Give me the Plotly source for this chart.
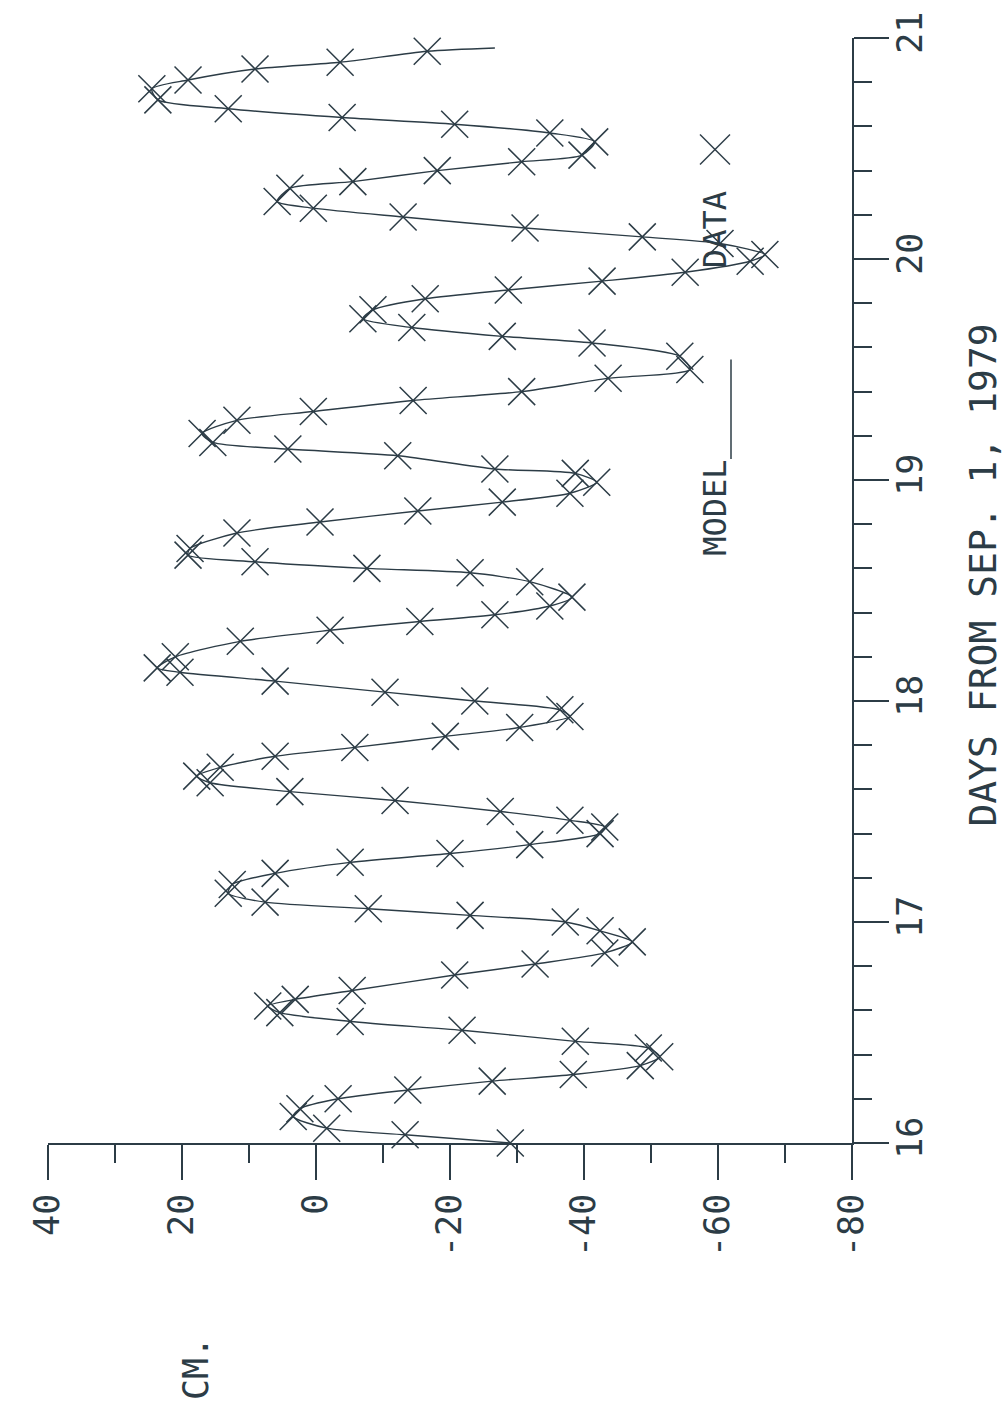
import plotly.graph_objects as go

INK = "#2c3c46"

# ---- data (days from Sep 1 1979, sea level in cm) ----
data_day = [16.00, 16.037, 16.067, 16.12, 16.155, 16.20, 16.24, 16.28, 16.31, 16.35,
            16.39, 16.43, 16.46, 16.51, 16.55, 16.59, 16.62, 16.65, 16.69, 16.76,
            16.81, 16.86, 16.91, 16.96, 17.00, 17.03, 17.06, 17.09, 17.13, 17.17,
            17.22, 17.27, 17.31, 17.35, 17.40, 17.43, 17.46, 17.50, 17.55, 17.59,
            17.63, 17.66, 17.70, 17.75, 17.79, 17.84, 17.88, 17.93, 17.96, 18.00,
            18.04, 18.09, 18.13, 18.15, 18.20, 18.27, 18.32, 18.36, 18.39, 18.43,
            18.47, 18.54, 18.58, 18.60, 18.63, 18.66, 18.69, 18.76, 18.81, 18.86,
            18.90, 18.94, 18.99, 19.03, 19.05, 19.11, 19.14, 19.17, 19.21, 19.27,
            19.31, 19.36, 19.40, 19.46, 19.50, 19.56, 19.62, 19.65, 19.69, 19.73,
            19.77, 19.82, 19.86, 19.90, 19.94, 19.99, 20.02, 20.07, 20.10, 20.14,
            20.19, 20.23, 20.26, 20.32, 20.35, 20.40, 20.44, 20.47, 20.53, 20.57,
            20.61, 20.64, 20.68, 20.72, 20.77, 20.81, 20.86, 20.89, 20.94]
data_cm = [-29.0, -13.3, -1.6, 3.4, 2.4, -3.3, -13.7, -26.3, -38.4, -48.4,
           -51.3, -49.6, -38.7, -21.8, -5.1, 5.4, 7.2, 3.1, -5.4, -20.7,
           -32.7, -43.1, -47.2, -42.4, -37.2, -23.0, -7.8, 7.6, 13.1, 12.5,
           6.1, -5.1, -20.0, -31.9, -42.4, -43.1, -37.9, -27.5, -11.8, 3.9,
           15.8, 17.8, 14.3, 6.1, -5.8, -19.3, -30.4, -37.9, -36.4, -23.7,
           -10.3, 6.1, 20.3, 23.7, 21.0, 11.3, -2.1, -15.5, -26.7, -34.9,
           -38.2, -31.9, -23.0, -7.6, 9.1, 19.1, 18.8, 11.8, -0.6, -15.2,
           -27.8, -37.9, -41.9, -38.7, -26.7, -12.2, 4.2, 15.4, 17.0, 11.8,
           0.4, -14.5, -30.7, -43.6, -55.8, -54.3, -41.2, -27.8, -14.3, -7.0,
           -8.5, -16.3, -28.7, -42.7, -55.1, -64.8, -67.0, -60.3, -48.7, -31.2,
           -13.0, 0.4, 5.8, 3.9, -5.5, -18.1, -30.7, -39.7, -41.6, -34.9,
           -20.7, -3.9, 13.1, 23.6, 24.5, 19.1, 9.1, -3.6, -16.6]

# model curve (continues slightly past the last observation)
model_day = data_day + [20.955]
model_cm = data_cm + [-26.7]

cm_ticks = [40, 20, 0, -20, -40, -60, -80]
day_ticks = [16, 17, 18, 19, 20, 21]

FONT = "DejaVu Sans Mono"

fig = go.Figure()
fig.add_trace(go.Scatter(x=model_cm, y=model_day, mode="lines", name="MODEL",
                         line=dict(color=INK, width=1.4, shape="spline", smoothing=0.7),
                         cliponaxis=False, hoverinfo="skip"))
fig.add_trace(go.Scatter(x=data_cm, y=data_day, mode="markers", name="DATA",
                         marker=dict(symbol="x-thin", size=27,
                                     line=dict(color=INK, width=1.5)),
                         cliponaxis=False))

fig.update_layout(
    width=1004, height=1409,
    margin=dict(l=48, r=152, t=33, b=266),
    paper_bgcolor="white", plot_bgcolor="white",
    showlegend=False,
    font=dict(family=FONT, color=INK),
    xaxis=dict(range=[40, -80], tickmode="array", tickvals=cm_ticks,
               ticktext=[str(v) for v in cm_ticks],
               ticks="outside", ticklen=35, tickwidth=1.5, tickcolor=INK,
               showline=True, linecolor=INK, linewidth=1.5,
               showgrid=False, zeroline=False, tickangle=-90,
               tickfont=dict(family=FONT, size=35, color=INK),
               minor=dict(dtick=10, tick0=0, ticks="outside", ticklen=18,
                          tickwidth=1.5, tickcolor=INK, showgrid=False)),
    yaxis=dict(range=[16, 21], side="right", tickmode="array", tickvals=day_ticks,
               ticktext=[str(v) for v in day_ticks],
               ticks="outside", ticklen=35, tickwidth=1.5, tickcolor=INK,
               showline=True, linecolor=INK, linewidth=1.5,
               showgrid=False, zeroline=False, tickangle=-90,
               ticklabelstandoff=-9,
               tickfont=dict(family=FONT, size=35, color=INK),
               minor=dict(dtick=0.2, tick0=16, ticks="outside", ticklen=18,
                          tickwidth=1.5, tickcolor=INK, showgrid=False)),
)


def px(x):
    return (x - 48) / 804


def py(y):
    return (1143 - y) / 1110


LX = 715  # legend column (centre of rotated text)
anns = [
    dict(text="DAYS FROM SEP. 1, 1979", x=983, y=573, size=38),
    dict(text="CM.", x=196, y=1370, size=35),
    dict(text="MODEL", x=LX, y=505, size=32),
    dict(text="DATA", x=LX, y=226, size=32),
]
for a in anns:
    fig.add_annotation(text=a["text"], xref="paper", yref="paper",
                       x=px(a["x"]), y=py(a["y"]),
                       xanchor="center", yanchor="middle", textangle=-90,
                       showarrow=False, font=dict(family=FONT, size=a["size"], color=INK))

# legend sample line for MODEL
fig.add_shape(type="line", xref="paper", yref="paper",
              x0=px(LX + 16), x1=px(LX + 16), y0=py(456), y1=py(356),
              line=dict(color=INK, width=1.5))
# legend cross for DATA
fig.add_shape(type="line", xref="paper", yref="paper",
              x0=px(LX - 15), x1=px(LX + 15), y0=py(130), y1=py(160),
              line=dict(color=INK, width=1.5))
fig.add_shape(type="line", xref="paper", yref="paper",
              x0=px(LX - 15), x1=px(LX + 15), y0=py(160), y1=py(130),
              line=dict(color=INK, width=1.5))

fig.write_html("out.html")
